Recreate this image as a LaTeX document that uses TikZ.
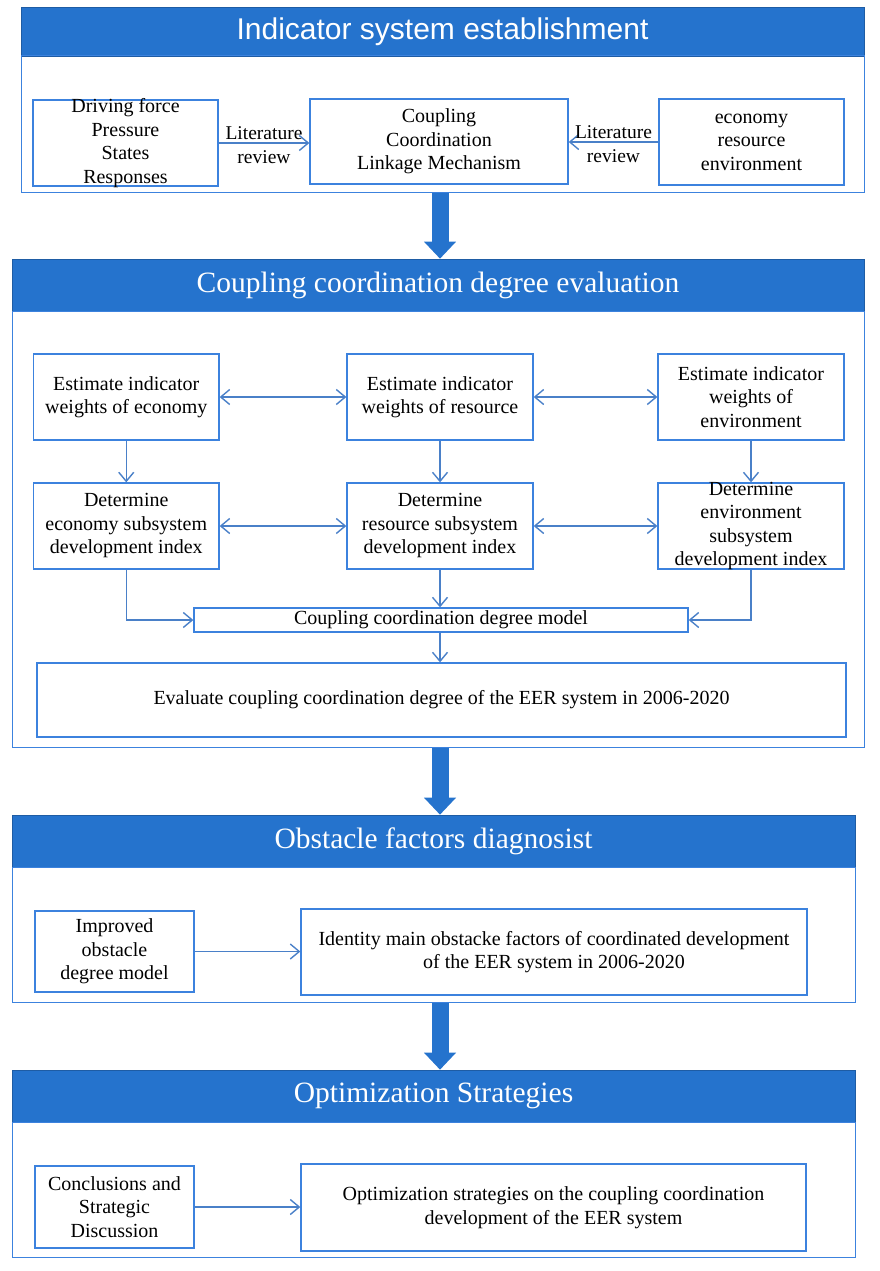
\documentclass[tikz,border=0pt]{standalone}
\usepackage{fontspec}
\setmainfont{Liberation Serif}
\newfontfamily\sansf{Liberation Sans}
\usetikzlibrary{arrows.meta,calc}
\definecolor{hblue}{RGB}{37,115,205}
\definecolor{bblue}{RGB}{60,130,222}
\definecolor{cblue}{RGB}{74,128,200}
\begin{document}
\begin{tikzpicture}[x=1pt,y=-1pt,
  hdr/.style={fill=hblue,draw=hblue!80!black,line width=0.6pt,inner sep=0pt,text=white,font=\fontsize{29.5}{34}\selectfont},
  sec/.style={draw=bblue,line width=1pt,inner sep=0pt},
  bx/.style={draw=bblue,line width=1.3pt,inner sep=0pt,align=center,font=\fontsize{20}{23.5}\selectfont},
  txt/.style={inner sep=0pt,align=center,font=\fontsize{20}{23.5}\selectfont},
  lbl/.style={inner sep=0pt,align=center,font=\fontsize{19.5}{24}\selectfont},
  conn/.style={draw=cblue,line width=1.4pt,-{Straight Barb[length=9pt,width=15pt,line width=1.4pt]}},
  dconn/.style={draw=cblue,line width=1.4pt,{Straight Barb[length=9pt,width=15pt,line width=1.4pt]}-{Straight Barb[length=9pt,width=15pt,line width=1.4pt]}},
  big/.style={draw=hblue,line width=17pt,-{Triangle[width=31pt,length=17pt]}}
]
\useasboundingbox (0,0) rectangle (879,1271);

% ---------- Section 1 ----------
\node[hdr,minimum width=843pt,minimum height=49pt] (h1) at (442.5,31.5) {\sansf\fontsize{30}{34}\selectfont Indicator system establishment};
\node[sec,minimum width=843pt,minimum height=136pt] (b1) at (442.5,124) {};
\node[bx,minimum width=185pt,minimum height=86pt] (s1l) at (125.5,143) {};
\node[txt] at (s1l.center) {Driving force\\Pressure\\States\\Responses};
\node[bx,minimum width=258pt,minimum height=85pt] (s1m) at (439,141.5) {Coupling\\Coordination\\Linkage Mechanism};
\node[bx,minimum width=185pt,minimum height=86pt] (s1r) at (751.5,142) {economy\\resource\\environment};
\draw[conn] (s1l.east) -- (s1l.east -| s1m.west) node[midway,lbl,yshift=-2pt] {Literature\\review};
\draw[conn] (s1r.west) -- (s1r.west -| s1m.east) node[midway,lbl,yshift=-2pt] {Literature\\review};

% ---------- Section 2 ----------
\node[hdr,minimum width=852pt,minimum height=52pt] (h2) at (438,285) {Coupling coordination degree evaluation};
\node[sec,minimum width=852pt,minimum height=436pt] (b2) at (438,529) {};
\node[bx,minimum width=185.5pt,minimum height=86pt] (r1a) at (126.25,397) {Estimate indicator\\weights of economy};
\node[bx,minimum width=186pt,minimum height=86pt] (r1b) at (440,397) {Estimate indicator\\weights of resource};
\node[bx,minimum width=186pt,minimum height=86pt] (r1c) at (751,397) {Estimate indicator\\weights of\\environment};
\node[bx,minimum width=185.5pt,minimum height=86pt] (r2a) at (126.25,526) {Determine\\economy subsystem\\development index};
\node[bx,minimum width=186pt,minimum height=86pt] (r2b) at (440,526) {Determine\\resource subsystem\\development index};
\node[bx,minimum width=186pt,minimum height=86pt] (r2c) at (751,526) {};
\node[txt] at (r2c.center) {Determine\\environment\\subsystem\\development index};
\node[bx,minimum width=494pt,minimum height=24pt] (model) at (441,620) {Coupling coordination degree model};
\node[bx,minimum width=809pt,minimum height=74pt] (eval) at (441.5,700) {Evaluate coupling coordination degree of the EER system in 2006-2020};

\draw[dconn] (r1a.east) -- (r1b.west);
\draw[dconn] (r1b.east) -- (r1c.west);
\draw[dconn] (r2a.east) -- (r2b.west);
\draw[dconn] (r2b.east) -- (r2c.west);
\draw[conn] (r1a.south) -- (r2a.north);
\draw[conn] (r1b.south) -- (r2b.north);
\draw[conn] (r1c.south) -- (r2c.north);
\draw[conn] (r2a.south) |- (model.west);
\draw[conn] (r2c.south) |- (model.east);
\draw[conn] (r2b.south) -- (r2b.south |- model.north);
\draw[conn] (model.south -| r2b.south) -- (r2b.south |- eval.north);

% ---------- Section 3 ----------
\node[hdr,minimum width=843pt,minimum height=52pt] (h3) at (433.5,841) {Obstacle factors diagnosist};
\node[sec,minimum width=843pt,minimum height=135pt] (b3) at (433.5,934.5) {};
\node[bx,minimum width=159pt,minimum height=81pt] (o1) at (114.5,951.5) {Improved\\obstacle\\degree model};
\node[bx,minimum width=506pt,minimum height=86pt] (o2) at (554,952) {Identity main obstacke factors of coordinated development\\of the EER system in 2006-2020};
\draw[conn] (o1.east) -- (o1.east -| o2.west);

% ---------- Section 4 ----------
\node[hdr,minimum width=843pt,minimum height=52pt] (h4) at (433.5,1096) {Optimization Strategies};
\node[sec,minimum width=843pt,minimum height=135pt] (b4) at (433.5,1189.5) {};
\node[bx,minimum width=159pt,minimum height=82pt] (c1) at (114.5,1207) {Conclusions and\\Strategic\\Discussion};
\node[bx,minimum width=505pt,minimum height=87pt] (c2) at (553.5,1207.5) {Optimization strategies on the coupling coordination\\development of the EER system};
\draw[conn] (c1.east) -- (c1.east -| c2.west);

% ---------- Big arrows ----------
\coordinate (ax) at (440,0);
\draw[big] (ax |- b1.south) -- (ax |- h2.north);
\draw[big] (ax |- b2.south) -- (ax |- h3.north);
\draw[big] (ax |- b3.south) -- (ax |- h4.north);
\end{tikzpicture}
\end{document}
